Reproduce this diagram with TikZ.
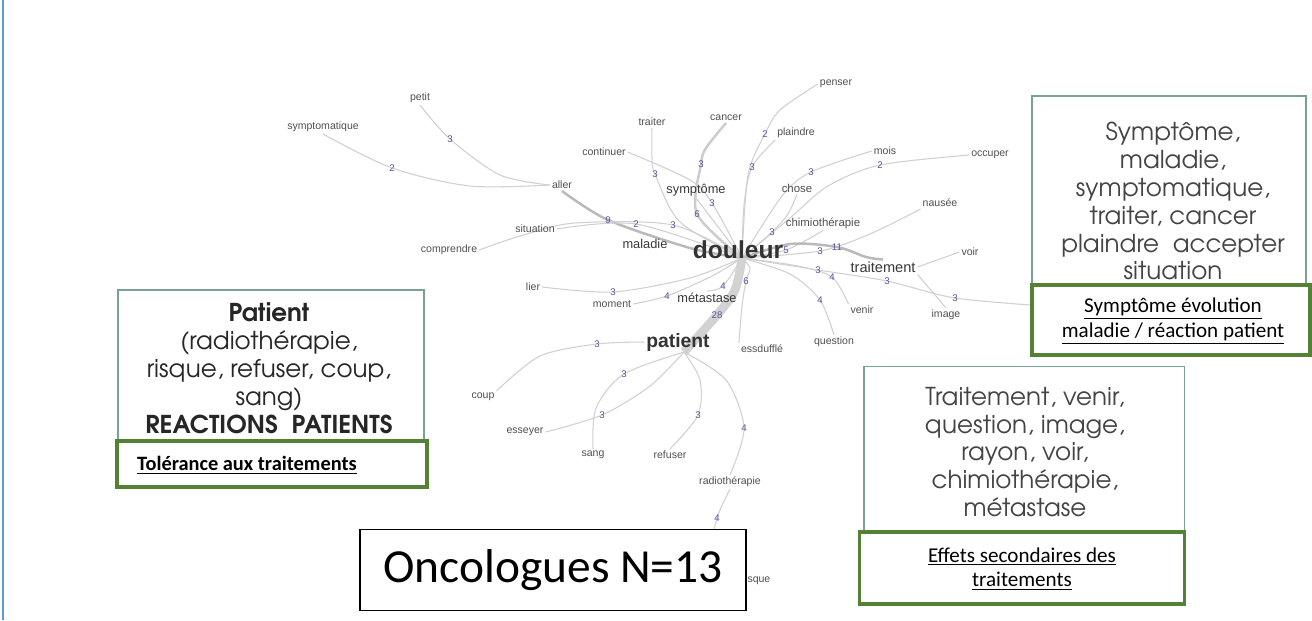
\documentclass[tikz,border=0pt]{standalone}
\usepackage{fontspec}
\setmainfont{Carlito}
\setsansfont{Liberation Sans}
\newfontfamily\gothic{texgyreadventor}[Extension=.otf, UprightFont=*-regular, BoldFont=*-bold]
\usetikzlibrary{backgrounds}

\definecolor{wordgray}{RGB}{80,80,80}
\definecolor{weightblue}{RGB}{85,85,160}
\definecolor{linkgray}{RGB}{208,208,208}
\definecolor{tealframe}{RGB}{122,162,148}
\definecolor{greenframe}{RGB}{84,130,53}
\definecolor{sideblue}{RGB}{91,155,213}
\definecolor{cardgray}{RGB}{68,68,68}

\begin{document}
\begin{tikzpicture}[x=0.02cm,y=-0.02cm,
  word/.style={font=\sffamily\fontsize{6}{7}\selectfont,text=wordgray,inner sep=1pt},
  subword/.style={font=\sffamily\fontsize{6.5}{7}\selectfont,text=wordgray,inner sep=1pt},
  midword/.style={font=\sffamily\fontsize{7.3}{8}\selectfont,text=wordgray!70!black,inner sep=1pt},
  hubword/.style={font=\sffamily\bfseries\fontsize{#1}{#1}\selectfont,text=black!80,inner sep=1pt},
  weight/.style={font=\sffamily\fontsize{5.5}{6}\selectfont,text=weightblue,inner sep=0.5pt},
  link/.style={draw=linkgray,line width=0.6pt},
  heavylink/.style={draw=gray!55,line width=1.4pt},
  card/.style={draw=tealframe,line width=1.1pt,fill=white},
  tag/.style={draw=greenframe,line width=1.8pt,fill=white},
  cardtxt/.style={font=\gothic\fontsize{14}{15.9}\selectfont,text=cardgray,align=center},
  tagtxt/.style={font=\fontsize{12}{14}\selectfont,align=center}]

\useasboundingbox (0,0) rectangle (1312,620);
\draw[sideblue,line width=1.7pt] (3,0) -- (3,620);

% words
\node[word] (petit) at (420,98) {petit};
\node[word] (symptomatique) at (323,127) {symptomatique};
\node[word] (aller) at (562,185) {aller};
\node[word] (continuer) at (604,152) {continuer};
\node[word] (traiter) at (652,122) {traiter};
\node[word] (cancer) at (726,118) {cancer};
\node[word] (penser) at (836,84) {penser};
\node[word] (plaindre) at (796,133) {plaindre};
\node[word] (mois) at (885,151) {mois};
\node[word] (occuper) at (990,155) {occuper};
\node[midword] (symptome) at (696,190) {symptôme};
\node[subword] (chose) at (797,188) {chose};
\node[word] (nausee) at (940,203) {nausée};
\node[subword] (chimio) at (823,223) {chimiothérapie};
\node[word] (situation) at (535,229) {situation};
\node[word] (comprendre) at (449,250) {comprendre};
\node[midword] (maladie) at (645,244) {maladie};
\node[hubword=14] (douleur) at (738,250) {douleur};
\node[word] (voir) at (970,252) {voir};
\node[midword,font=\sffamily\fontsize{8.3}{9}\selectfont] (traitement) at (883,267) {traitement};
\node[word] (lier) at (533,287) {lier};
\node[word] (moment) at (612,304) {moment};
\node[midword] (metastase) at (707,298) {métastase};
\node[word] (venir) at (862,310) {venir};
\node[word] (image) at (946,315) {image};
\node[word] (question) at (834,342) {question};
\node[hubword=11] (patient) at (678,342) {patient};
\node[word] (essouffle) at (762,349) {essdufflé};
\node[word] (coup) at (483,397) {coup};
\node[word] (esseyer) at (525,432) {esseyer};
\node[word] (sang) at (593,455) {sang};
\node[word] (refuser) at (670,455) {refuser};
\node[word] (radio) at (730,482) {radiothérapie};
\node[word] (risque) at (756,580) {risque};

% weights
\node[weight] (wpe) at (450,139) {3};
\node[weight] (wsy) at (392,168) {2};
\node[weight] (wal) at (608,220) {9};
\node[weight] (wsi) at (636,224) {2};
\node[weight] (wco) at (673,225) {3};
\node[weight] (wtr) at (655,174) {3};
\node[weight] (wca) at (701,164) {3};
\node[weight] (wcb) at (697,214) {6};
\node[weight] (wcn) at (712,203) {3};
\node[weight] (wpn) at (765,134) {2};
\node[weight] (wpl) at (752,167) {3};
\node[weight] (wmo) at (811,172) {3};
\node[weight] (woc) at (880,165) {2};
\node[weight] (wch) at (772,232) {3};
\node[weight] (wci) at (786,250) {5};
\node[weight] (wna) at (820,251) {3};
\node[weight] (wtt) at (837,247) {11};
\node[weight] (wra) at (818,270) {3};
\node[weight] (wrb) at (887,281) {3};
\node[weight] (wrc) at (955,298) {3};
\node[weight] (wve) at (832,277) {4};
\node[weight] (wqu) at (820,300) {4};
\node[weight] (wli) at (613,292) {3};
\node[weight] (wmm) at (667,296) {4};
\node[weight] (wme) at (723,286) {4};
\node[weight] (wes) at (746,281) {6};
\node[weight] (wpa) at (717,315) {28};
\node[weight] (wcp) at (597,344) {3};
\node[weight] (wsa) at (624,374) {3};
\node[weight] (wey) at (602,415) {3};
\node[weight] (wre) at (698,415) {3};
\node[weight] (wrd) at (744,428) {4};
\node[weight] (wrq) at (717,518) {4};

\coordinate (dcore) at (742,258);
\coordinate (pcore) at (684,352);
\coordinate (rayon) at (1045,306);

\begin{scope}[on background layer]
\fill[white] (0,0) rectangle (1312,620);
\draw[link] plot[smooth] coordinates {(petit.south) (wpe.center) (500,175) (aller.west)};
\draw[link] plot[smooth] coordinates {(symptomatique.south) (wsy.center) (470,186) (aller.west)};
\draw[heavylink] plot[smooth] coordinates {(aller.south) (wal.center) (690,248) (dcore)};
\draw[link] plot[smooth] coordinates {(situation.east) (wsi.center) (dcore)};
\draw[link] plot[smooth] coordinates {(comprendre.east) (520,236) (575,223) (wco.center) (dcore)};
\draw[link] plot[smooth] coordinates {(traiter.south) (652,158) (wtr.center) (680,222) (dcore)};
\draw[heavylink,draw=gray!40] plot[smooth] coordinates {(cancer.south) (706,148) (wca.center) (wcb.center) (dcore)};
\draw[link] plot[smooth] coordinates {(continuer.east) (690,180) (wcn.center) (dcore)};
\draw[link] (symptome.south) -- (dcore);
\draw[link] plot[smooth] coordinates {(penser.west) (780,110) (wpn.center) (748,175) (dcore)};
\draw[link] plot[smooth] coordinates {(plaindre.south west) (wpl.center) (744,205) (dcore)};
\draw[link] plot[smooth] coordinates {(mois.west) (wmo.center) (782,196) (dcore)};
\draw[link] plot[smooth] coordinates {(occuper.west) (woc.center) (828,186) (790,218) (dcore)};
\draw[link] plot[smooth] coordinates {(chose.south) (788,214) (wch.center) (dcore)};
\draw[link] plot[smooth] coordinates {(chimio.south) (wci.center) (dcore)};
\draw[link] plot[smooth] coordinates {(nausee.south west) (870,234) (wna.center) (dcore)};
\draw[heavylink] plot[smooth] coordinates {(dcore) (790,244) (wtt.center) (866,257) (traitement.north)};
\draw[link] plot[smooth] coordinates {(dcore) (wra.center) (wrb.center) (wrc.center) (rayon)};
\draw[link] (image.north) -- (traitement.south east);
\draw[link] (voir.west) -- (traitement.east);
\draw[link] plot[smooth] coordinates {(venir.north west) (wve.center) (798,266) (dcore)};
\draw[link] plot[smooth] coordinates {(question.north) (wqu.center) (790,274) (dcore)};
\draw[link] plot[smooth] coordinates {(lier.east) (wli.center) (690,278) (dcore)};
\draw[link] plot[smooth] coordinates {(moment.east) (wmm.center) (712,276) (dcore)};
\draw[link] plot[smooth] coordinates {(dcore) (wme.center) (metastase.north)};
\draw[link] plot[smooth] coordinates {(dcore) (750,268) (wes.center) (742,306) (essouffle.north west)};
\draw[draw=gray!35,line width=5pt] plot[smooth] coordinates {(dcore) (735,290) (wpa.center) (pcore)};
\draw[link] plot[smooth] coordinates {(coup.north east) (540,356) (wcp.center) (patient.west)};
\draw[link] plot[smooth] coordinates {(sang.north) (596,408) (wsa.center) (pcore)};
\draw[link] plot[smooth] coordinates {(esseyer.east) (wey.center) (650,386) (pcore)};
\draw[link] plot[smooth] coordinates {(refuser.north) (wre.center) (700,380) (pcore)};
\draw[link] plot[smooth] coordinates {(pcore) (726,380) (wrd.center) (radio.north)};
\draw[link] plot[smooth] coordinates {(radio.south) (wrq.center) (715,545) (risque.west)};
\end{scope}

% boxes
\node[card,minimum width=6.12cm,minimum height=3.04cm] (leftcard) at (271,366) {};
\node[cardtxt,text=black!85] (lefttext) at (269,368)
  {\textbf{Patient}\\(radiothérapie,\\risque, refuser, coup,\\sang)\\\textbf{REACTIONS~~PATIENTS}};
\node[tag,minimum width=6.2cm,minimum height=0.92cm] (lefttag) at (272,464) {};
\node[tagtxt,anchor=west,font=\fontsize{11.6}{14}\selectfont] (lefttagtext) at (131,465) {\textbf{\underline{Tolérance aux traitements}}};

\node[card,minimum width=5.48cm,minimum height=3.84cm] (topcard) at (1169,192) {};
\node[cardtxt] (toptext) at (1173,201)
  {Symptôme,\\maladie,\\symptomatique,\\traiter, cancer\\plaindre~~accepter\\situation};
\node[tag,minimum width=5.56cm,minimum height=1.4cm] (toptag) at (1171,320) {};
\node[tagtxt] (toptagtext) at (1173,321) {\underline{Symptôme évolution}\\\underline{maladie / réaction patient}};

\node[card,minimum width=6.42cm,minimum height=3.34cm] (lowcard) at (1024,450) {};
\node[cardtxt] (lowtext) at (1025,452)
  {Traitement, venir,\\question, image,\\rayon, voir,\\chimiothérapie,\\métastase};
\node[tag,minimum width=6.5cm,minimum height=1.44cm] (lowtag) at (1022,568) {};
\node[tagtxt] (lowtagtext) at (1022,569) {\underline{Effets secondaires des}\\\underline{traitements}};

\node[draw=black,line width=1.1pt,fill=white,minimum width=7.72cm,minimum height=1.62cm,
  font=\fontsize{27}{29}\selectfont] (oncologues) at (553,570) {Oncologues N=13};
\end{tikzpicture}
\end{document}
